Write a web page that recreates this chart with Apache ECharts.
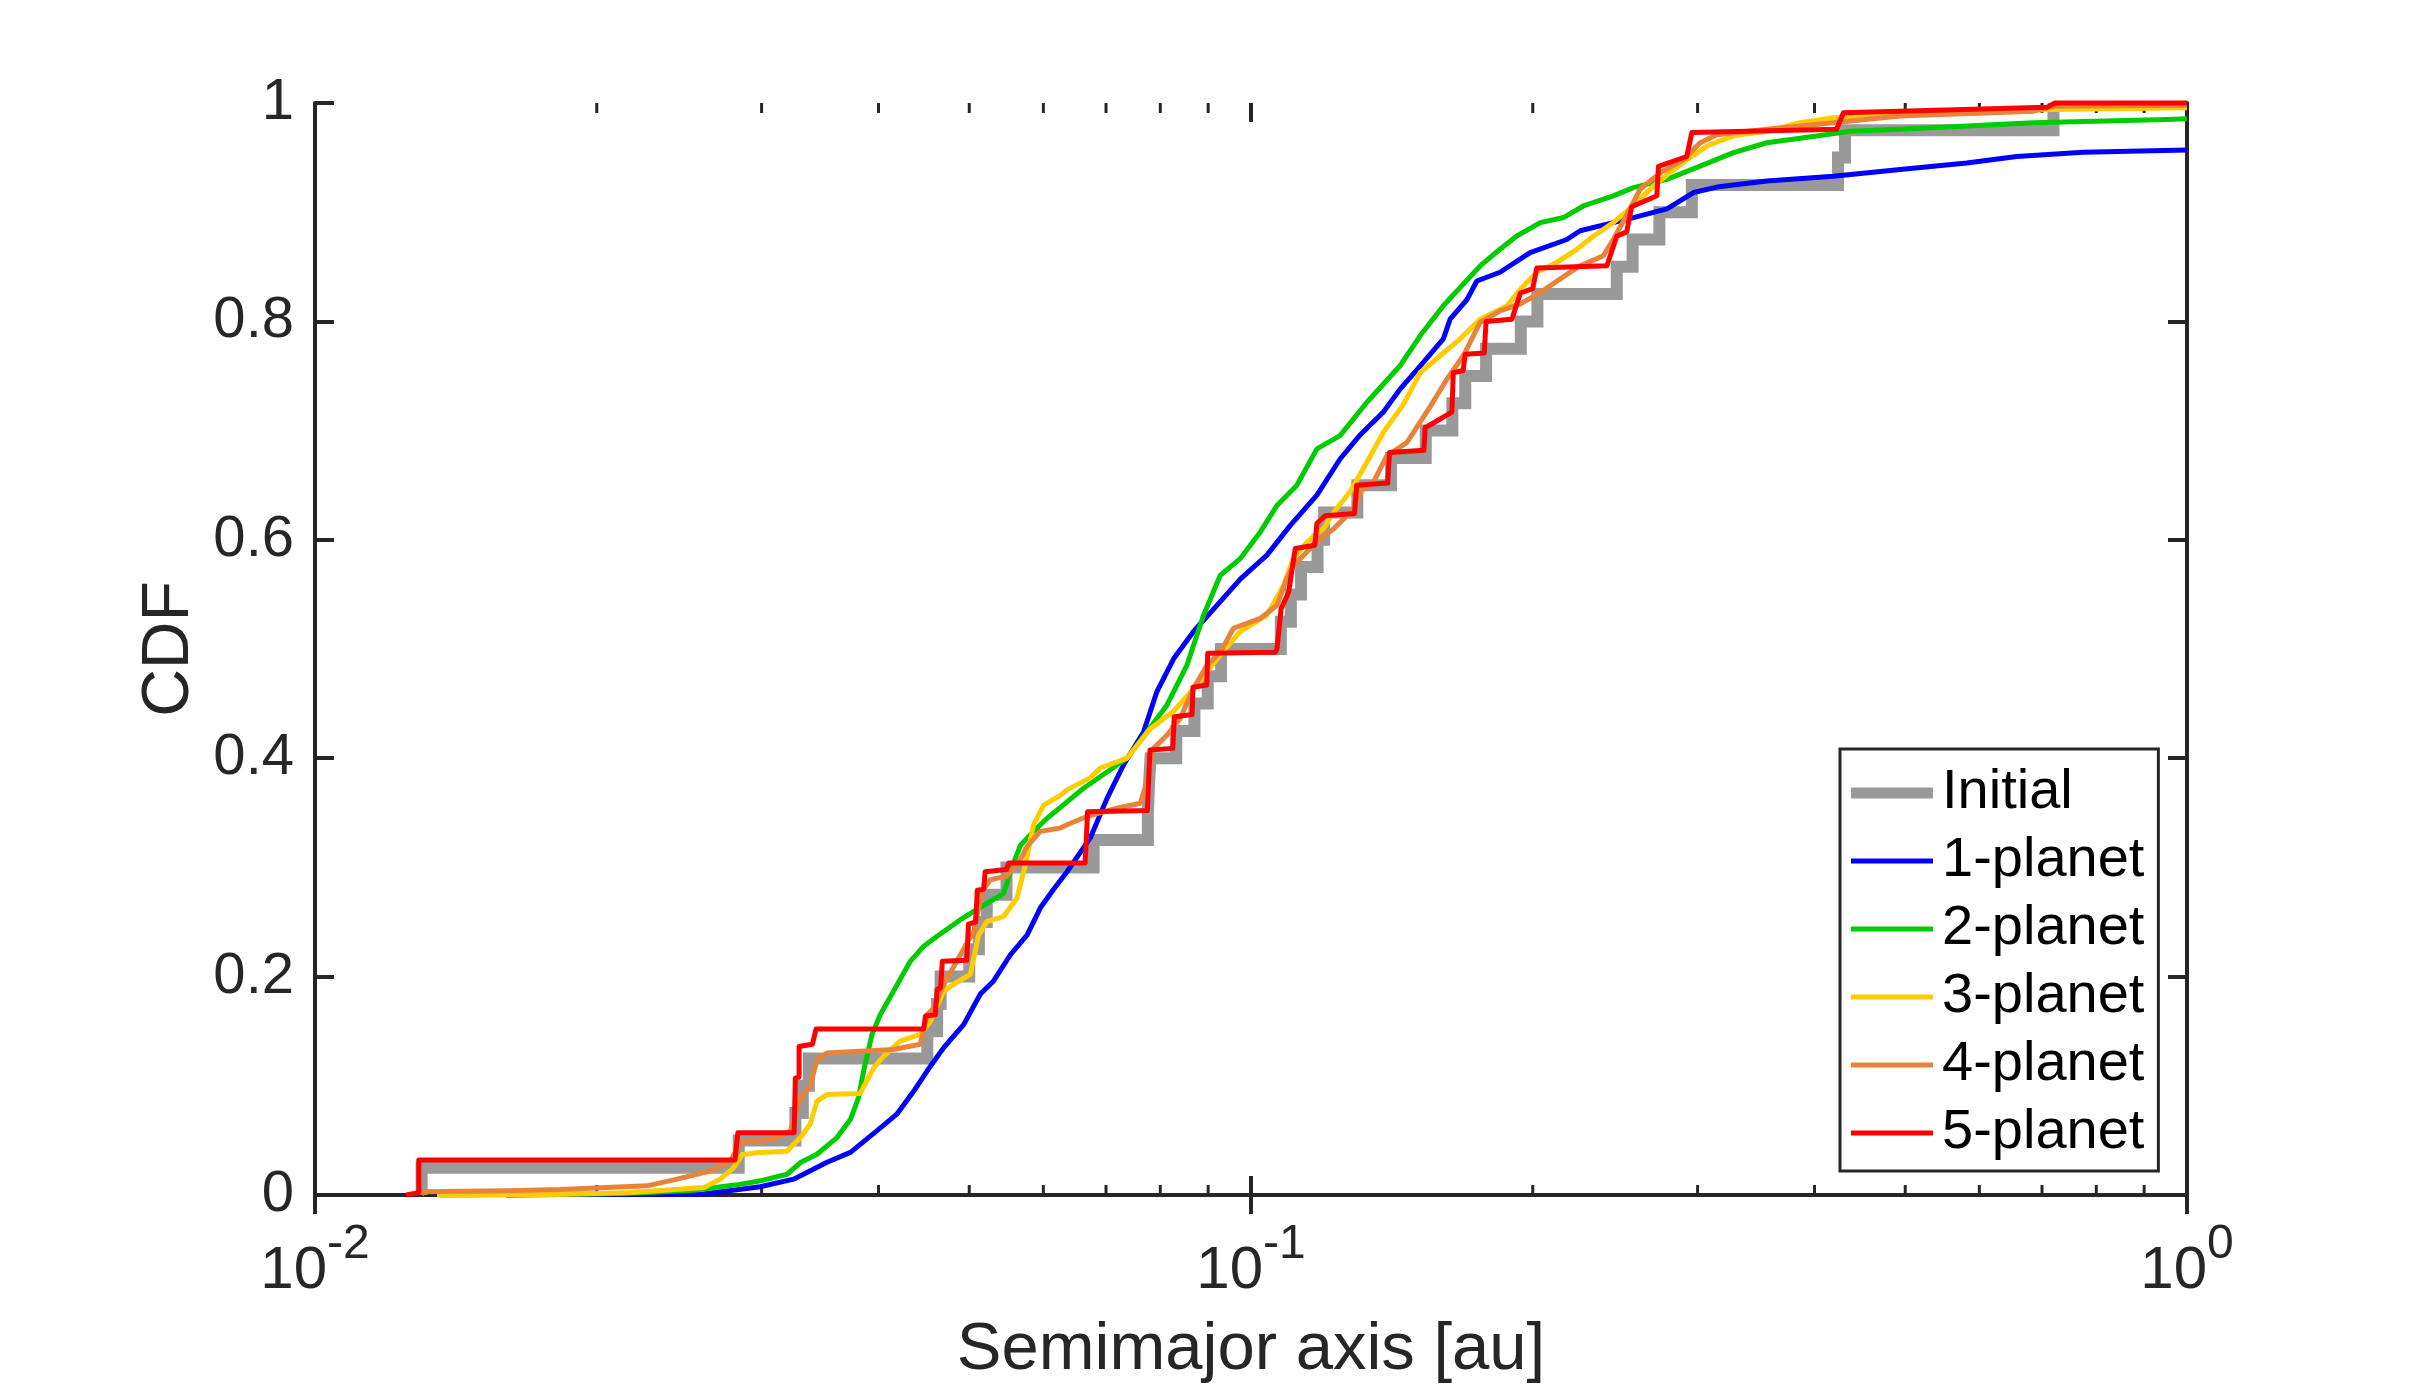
<!DOCTYPE html>
<html>
<head>
<meta charset="utf-8">
<script src="https://cdn.jsdelivr.net/npm/echarts@6/dist/echarts.min.js"></script>
<style>
  html, body { margin: 0; padding: 0; background: #fff; }
  #main { width: 2417px; height: 1389px; }
</style>
</head>
<body>
<div id="main"></div>
<script>
var myChart = echarts.init(document.getElementById('main'));

var seriesNames = ['Initial', '1-planet', '2-planet', '3-planet', '4-planet', '5-planet'];
var seriesColors = ['#999999', '#0000ff', '#00cc00', '#ffcc00', '#e8833a', '#ff0000'];

// initial systems: CDF steps (semimajor axis [au], cumulative fraction)
var initialCdf = [
  [0.0130, 0], [0.0130, 0.025], [0.02836, 0.05], [0.0326, 0.075], [0.0332, 0.1], [0.0337, 0.125],
  [0.0451, 0.15], [0.0462, 0.175], [0.0466, 0.2], [0.0500, 0.225], [0.0512, 0.25], [0.0522, 0.275],
  [0.0548, 0.3], [0.0679, 0.325], [0.0776, 0.35], [0.0778, 0.375], [0.0781, 0.4], [0.0832, 0.425],
  [0.0870, 0.45], [0.0899, 0.475], [0.0929, 0.5], [0.1076, 0.525], [0.1103, 0.55], [0.1131, 0.575],
  [0.1178, 0.6], [0.1197, 0.625], [0.1299, 0.65], [0.1411, 0.675], [0.1537, 0.7], [0.1641, 0.725],
  [0.1694, 0.75], [0.1783, 0.775], [0.1942, 0.8], [0.2023, 0.825], [0.2459, 0.85], [0.2557, 0.875],
  [0.2731, 0.9], [0.2958, 0.925], [0.4238, 0.95], [0.4311, 0.975], [0.720, 1.0]
];

var onePlanet = [
  [0.0160, 0], [0.0183, 0.0005], [0.0230, 0.0008], [0.0260, 0.001], [0.0299, 0.0075], [0.03246, 0.0145],
  [0.03524, 0.030], [0.03733, 0.039], [0.03986, 0.059], [0.04184, 0.074], [0.04361, 0.095], [0.04507, 0.1135],
  [0.04696, 0.135], [0.04932, 0.156], [0.05139, 0.184], [0.05309, 0.196], [0.05533, 0.220], [0.05764, 0.238],
  [0.05956, 0.263], [0.06154, 0.280], [0.0636, 0.296], [0.06734, 0.327], [0.07016, 0.363], [0.0731, 0.394],
  [0.07677, 0.424], [0.07934, 0.461], [0.08266, 0.491], [0.08682, 0.516], [0.09196, 0.540], [0.09739, 0.564],
  [0.104, 0.586], [0.1101, 0.613], [0.1176, 0.641], [0.1245, 0.674], [0.1308, 0.696], [0.1385, 0.717],
  [0.1443, 0.738], [0.1516, 0.759], [0.1605, 0.784], [0.1632, 0.802], [0.1701, 0.820], [0.1743, 0.837],
  [0.1845, 0.845], [0.1987, 0.863], [0.2175, 0.875], [0.2247, 0.883], [0.2438, 0.8905], [0.2562, 0.895],
  [0.2782, 0.903], [0.297, 0.918], [0.3146, 0.923], [0.3557, 0.9285], [0.419, 0.933], [0.4938, 0.939],
  [0.5815, 0.945], [0.6578, 0.951], [0.7748, 0.955], [1.0, 0.957]
];

var twoPlanet = [
  [0.0136, 0], [0.0200, 0.001], [0.02245, 0.002], [0.0254, 0.0044], [0.02824, 0.0093], [0.02991, 0.013],
  [0.03194, 0.019], [0.03301, 0.0297], [0.03438, 0.0373], [0.03612, 0.0526], [0.03733, 0.0693], [0.03808, 0.0891],
  [0.03856, 0.1135], [0.03936, 0.147], [0.04018, 0.1653], [0.0415, 0.1866], [0.04325, 0.214], [0.0447, 0.2278],
  [0.0462, 0.2369], [0.04893, 0.2521], [0.05056, 0.2598], [0.05266, 0.2689], [0.05441, 0.276], [0.05533, 0.2963],
  [0.05669, 0.32], [0.05857, 0.333], [0.06056, 0.345], [0.06257, 0.355], [0.06624, 0.3725], [0.07371, 0.400],
  [0.07743, 0.4243], [0.08131, 0.4486], [0.08543, 0.4852], [0.08898, 0.5309], [0.09273, 0.5675], [0.09739, 0.5827],
  [0.1023, 0.6071], [0.1066, 0.6315], [0.1119, 0.6497], [0.1176, 0.6833], [0.1245, 0.6954], [0.133, 0.726],
  [0.1443, 0.7594], [0.1516, 0.7868], [0.1605, 0.8143], [0.166, 0.828], [0.1757, 0.8508], [0.1845, 0.8661],
  [0.1923, 0.8782], [0.2037, 0.8905], [0.2157, 0.8951], [0.2265, 0.9057], [0.2438, 0.9149], [0.2562, 0.9225],
  [0.2782, 0.9301], [0.3019, 0.9422], [0.3277, 0.9545], [0.3557, 0.9636], [0.4023, 0.9697], [0.4366, 0.9742],
  [0.4938, 0.976], [0.6852, 0.9819], [0.9512, 0.985], [1.0, 0.9855]
];

var threePlanet = [
  [0.0135, 0], [0.018, 0.0005], [0.02156, 0.002], [0.02603, 0.0069], [0.0271, 0.0145], [0.02801, 0.025],
  [0.0286, 0.037], [0.02991, 0.039], [0.03194, 0.040], [0.03301, 0.0526], [0.03381, 0.065], [0.03438, 0.086],
  [0.03524, 0.092], [0.03824, 0.093], [0.03952, 0.1165], [0.0405, 0.127], [0.0422, 0.141], [0.04432, 0.147],
  [0.04543, 0.159], [0.04696, 0.1866], [0.04813, 0.193], [0.05013, 0.202], [0.05117, 0.238], [0.05224, 0.2506],
  [0.05441, 0.255], [0.05623, 0.272], [0.0574, 0.302], [0.05857, 0.339], [0.06005, 0.357], [0.06257, 0.366],
  [0.0636, 0.371], [0.06734, 0.382], [0.06902, 0.391], [0.07371, 0.400], [0.07805, 0.427], [0.08266, 0.443],
  [0.08756, 0.467], [0.09196, 0.491], [0.09739, 0.516], [0.104, 0.531], [0.1083, 0.558], [0.111, 0.583],
  [0.1148, 0.598], [0.1195, 0.610], [0.1225, 0.625], [0.1276, 0.644], [0.133, 0.671], [0.1385, 0.6985],
  [0.1455, 0.724], [0.1516, 0.753], [0.158, 0.766], [0.1673, 0.784], [0.1757, 0.802], [0.1877, 0.814],
  [0.194, 0.8295], [0.202, 0.845], [0.2122, 0.854], [0.2229, 0.866], [0.2322, 0.878], [0.2438, 0.8905],
  [0.2562, 0.906], [0.2692, 0.924], [0.2828, 0.939], [0.2945, 0.950], [0.3069, 0.9605], [0.3277, 0.970],
  [0.3557, 0.974], [0.3861, 0.982], [0.419, 0.9865], [0.4938, 0.9895], [0.72, 0.994], [1.0, 0.9956]
];

var fourPlanet = [
  [0.0130, 0], [0.01305, 0.003], [0.016, 0.004], [0.0183, 0.005], [0.02264, 0.0084], [0.02437, 0.0145],
  [0.02644, 0.022], [0.02779, 0.031], [0.02848, 0.048], [0.0309, 0.051], [0.0322, 0.0587], [0.03301, 0.089],
  [0.03381, 0.0998], [0.03438, 0.124], [0.03524, 0.130], [0.0415, 0.1333], [0.04432, 0.138], [0.04507, 0.165],
  [0.0458, 0.171], [0.04696, 0.193], [0.04893, 0.220], [0.05056, 0.2415], [0.0516, 0.278], [0.05266, 0.2887],
  [0.05486, 0.292], [0.05669, 0.307], [0.05764, 0.3192], [0.05956, 0.333], [0.06257, 0.336], [0.0636, 0.339],
  [0.06679, 0.3466], [0.07191, 0.3542], [0.07615, 0.3588], [0.07743, 0.3786], [0.07868, 0.409], [0.08131, 0.421],
  [0.08402, 0.4365], [0.08682, 0.464], [0.08974, 0.485], [0.09273, 0.497], [0.09578, 0.519], [0.1023, 0.528],
  [0.1066, 0.540], [0.1092, 0.5644], [0.111, 0.5766], [0.1148, 0.589], [0.1186, 0.601], [0.1225, 0.610],
  [0.1287, 0.628], [0.1308, 0.644], [0.1352, 0.653], [0.1397, 0.677], [0.1467, 0.689], [0.1554, 0.722],
  [0.1619, 0.747], [0.1687, 0.769], [0.1757, 0.799], [0.1845, 0.8097], [0.194, 0.816], [0.2037, 0.8265],
  [0.214, 0.839], [0.2247, 0.851], [0.2379, 0.860], [0.2438, 0.875], [0.2541, 0.903], [0.2604, 0.921],
  [0.2736, 0.936], [0.2897, 0.948], [0.3019, 0.9636], [0.3146, 0.971], [0.3557, 0.976], [0.419, 0.982],
  [0.4938, 0.988], [0.6852, 0.9925], [0.7199, 0.997], [1.0, 0.998]
];

var fivePlanet = [
  [0.01251, 0], [0.01291, 0.002], [0.01291, 0.032], [0.0281, 0.032], [0.0283, 0.057], [0.0325, 0.057],
  [0.0326, 0.107], [0.0329, 0.108], [0.0329, 0.136], [0.0340, 0.138], [0.0343, 0.152], [0.0447, 0.152],
  [0.0449, 0.164], [0.0460, 0.165], [0.0462, 0.188], [0.0466, 0.19], [0.0468, 0.214], [0.0497, 0.215],
  [0.0499, 0.248], [0.0508, 0.25], [0.0510, 0.279], [0.0518, 0.28], [0.0520, 0.296], [0.0548, 0.298],
  [0.0551, 0.304], [0.0665, 0.304], [0.0669, 0.351], [0.0775, 0.352], [0.0780, 0.4075], [0.0825, 0.409],
  [0.0828, 0.438], [0.0865, 0.44], [0.0867, 0.465], [0.0897, 0.467], [0.0899, 0.496], [0.1062, 0.497],
  [0.1066, 0.5], [0.1077, 0.537], [0.1097, 0.552], [0.1115, 0.592], [0.1170, 0.595], [0.1176, 0.615],
  [0.1200, 0.622], [0.1290, 0.624], [0.1297, 0.65], [0.1400, 0.652], [0.1406, 0.68], [0.1530, 0.682],
  [0.1535, 0.703], [0.1545, 0.704], [0.1639, 0.717], [0.1645, 0.753], [0.1685, 0.755], [0.1694, 0.77],
  [0.1775, 0.771], [0.1783, 0.8], [0.1900, 0.802], [0.1940, 0.826], [0.2000, 0.83], [0.2020, 0.849],
  [0.2400, 0.851], [0.2459, 0.878], [0.2520, 0.882], [0.2551, 0.905], [0.2714, 0.915], [0.2725, 0.942],
  [0.2921, 0.951], [0.2958, 0.973], [0.4224, 0.976], [0.4295, 0.991], [0.7083, 0.996], [0.7228, 1.0],
  [1.0, 1.0]
];

// ticks of the log axis, drawn on bottom and top edges
var majorTicks = [0.1];
var minorTicks = [0.02, 0.03, 0.04, 0.05, 0.06, 0.07, 0.08, 0.09, 0.2, 0.3, 0.4, 0.5, 0.6, 0.7, 0.8, 0.9];

var axisColor = '#262626';
var font = 'Liberation Sans';

function lineSeries(name, data, color, width, step) {
  return {
    name: name,
    type: 'line',
    data: data,
    step: step || false,
    symbol: 'none',
    clip: false,
    animation: false,
    color: color,
    lineStyle: { color: color, width: width, join: step ? 'miter' : 'round', cap: 'butt' }
  };
}

function tickSeries(values, len, width) {
  return {
    type: 'custom',
    silent: true,
    clip: false,
    animation: false,
    data: values.map(function (v) { return [v, 0]; }),
    encode: { x: 0, y: 1 },
    renderItem: function (params, api) {
      var v = api.value(0);
      var b = api.coord([v, 0]);
      var t = api.coord([v, 1]);
      var st = { stroke: axisColor, lineWidth: width };
      return {
        type: 'group',
        children: [
          { type: 'line', shape: { x1: b[0], y1: b[1], x2: b[0], y2: b[1] - len }, style: st },
          { type: 'line', shape: { x1: t[0], y1: t[1], x2: t[0], y2: t[1] + len }, style: st }
        ]
      };
    }
  };
}

var option = {
  backgroundColor: '#fff',
  animation: false,
  textStyle: { fontFamily: font, color: axisColor },
  grid: { left: 315, right: 230, top: 103, bottom: 188 },
  legend: {
    left: 1840,
    top: 749,
    orient: 'vertical',
    backgroundColor: '#fff',
    borderColor: axisColor,
    borderWidth: 3,
    borderRadius: 0,
    padding: [16, 14, 10, 11],
    itemWidth: 82,
    itemHeight: 20,
    itemGap: 12,
    symbolKeepAspect: true,
    textStyle: { fontFamily: font, fontSize: 56, color: '#000', padding: [0, 0, 0, 4] },
    data: seriesNames.map(function (n, i) {
      var h = i === 0 ? 11 : 5;
      return {
        name: n,
        icon: 'path://M0,0h82v' + h + 'h-82z',
        itemStyle: { color: seriesColors[i], borderWidth: 0 }
      };
    })
  },
  xAxis: [{
    type: 'log',
    logBase: 10,
    min: 0.01,
    max: 1,
    position: 'bottom',
    name: 'Semimajor axis [au]',
    nameLocation: 'middle',
    nameGap: 122,
    nameTextStyle: { fontFamily: font, fontSize: 67, color: axisColor },
    axisLine: { lineStyle: { color: axisColor, width: 4 } },
    axisTick: { show: true, inside: true, length: 19, lineStyle: { color: axisColor, width: 4 } },
    splitLine: { show: false },
    axisLabel: {
      margin: 26,
      color: axisColor,
      formatter: function (v) {
        return '{b|10}{s|' + Math.round(Math.log10(v)) + '}';
      },
      rich: {
        b: { fontFamily: font, fontSize: 60, lineHeight: 100, color: axisColor },
        s: { fontFamily: font, fontSize: 48, lineHeight: 48, verticalAlign: 'top', color: axisColor }
      }
    }
  }, {
    type: 'log',
    logBase: 10,
    min: 0.01,
    max: 1,
    position: 'top',
    axisLine: { lineStyle: { color: axisColor, width: 4 } },
    axisTick: { show: true, inside: true, length: 19, lineStyle: { color: axisColor, width: 4 } },
    axisLabel: { show: false },
    splitLine: { show: false }
  }],
  yAxis: [{
    type: 'value',
    min: 0,
    max: 1,
    interval: 0.2,
    position: 'left',
    name: 'CDF',
    nameLocation: 'middle',
    nameRotate: 90,
    nameGap: 112,
    nameTextStyle: { fontFamily: font, fontSize: 66, color: axisColor },
    axisLine: { show: true, lineStyle: { color: axisColor, width: 4 } },
    axisTick: { show: true, inside: true, length: 19, lineStyle: { color: axisColor, width: 4 } },
    axisLabel: { margin: 21, fontFamily: font, fontSize: 58, color: axisColor },
    splitLine: { show: false }
  }, {
    type: 'value',
    min: 0,
    max: 1,
    interval: 0.2,
    position: 'right',
    axisLine: { show: true, lineStyle: { color: axisColor, width: 4 } },
    axisTick: { show: true, inside: true, length: 19, lineStyle: { color: axisColor, width: 4 } },
    axisLabel: { show: false },
    splitLine: { show: false }
  }],
  series: [
    lineSeries('Initial', initialCdf, seriesColors[0], 12, 'end'),
    lineSeries('1-planet', onePlanet, seriesColors[1], 5),
    lineSeries('2-planet', twoPlanet, seriesColors[2], 5),
    lineSeries('3-planet', threePlanet, seriesColors[3], 5),
    lineSeries('4-planet', fourPlanet, seriesColors[4], 5),
    lineSeries('5-planet', fivePlanet, seriesColors[5], 5),
    tickSeries(minorTicks, 10, 3),
    tickSeries(majorTicks, 19, 4)
  ]
};
myChart.setOption(option);
</script>
</body>
</html>
